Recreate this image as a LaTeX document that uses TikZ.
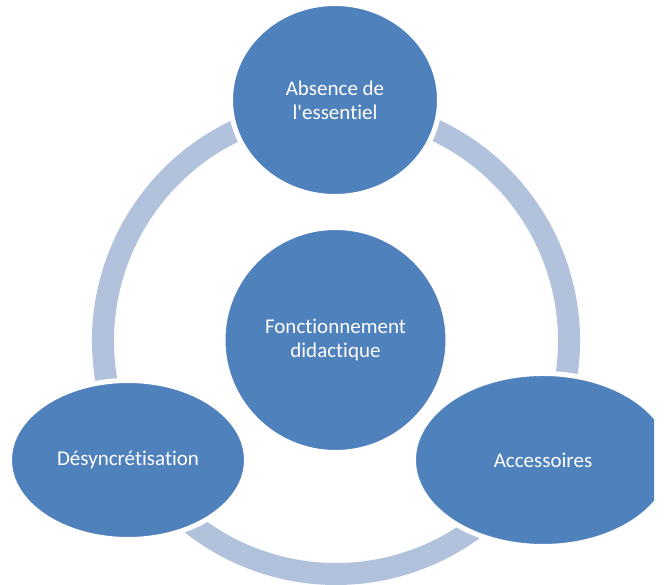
\documentclass[tikz,border=0pt]{standalone}
\usepackage{fontspec}
\newfontfamily\calib[Ligatures=NoCommon]{Carlito}
\usetikzlibrary{shapes}
\definecolor{nodeblue}{RGB}{79,129,189}
\definecolor{ringblue}{RGB}{178,193,220}
\tikzstyle{bubble}=[ellipse,fill=nodeblue,draw=white,line width=5pt,inner sep=0pt,text=white,align=center,font=\calib\fontsize{21}{24}\selectfont]
\tikzstyle{ringarc}=[draw=ringblue,line width=22pt]
\newcommand{\ringrad}{233pt}

\begin{document}
\begin{tikzpicture}[x=1pt,y=1pt]
    \useasboundingbox (0,0) rectangle (664,585);
    \clip (0,0) rectangle (654,585);
    \coordinate (ring) at (336,244);
	 \draw[ringarc] (ring) ++(110:\ringrad) arc[start angle=110,end angle=195,radius=\ringrad];
	 \draw[ringarc] (ring) ++(215:\ringrad) arc[start angle=215,end angle=320,radius=\ringrad];
	 \draw[ringarc] (ring) ++(-15:\ringrad) arc[start angle=-15,end angle=70,radius=\ringrad];
    \node[bubble,minimum width=225pt,minimum height=225pt] (FD) at (335.5,245) {Fonctionnement\\didactique};
    \node[bubble,minimum width=209pt,minimum height=193pt] (AE) at (335,485) {Absence de\\l'essentiel};
    \node[bubble,minimum width=237pt,minimum height=159pt] (DS) at (128,125) {Désyncrétisation};
    \node[bubble,minimum width=259pt,minimum height=173pt] (AC) at (543,125) {Accessoires};
\end{tikzpicture}
\end{document}
